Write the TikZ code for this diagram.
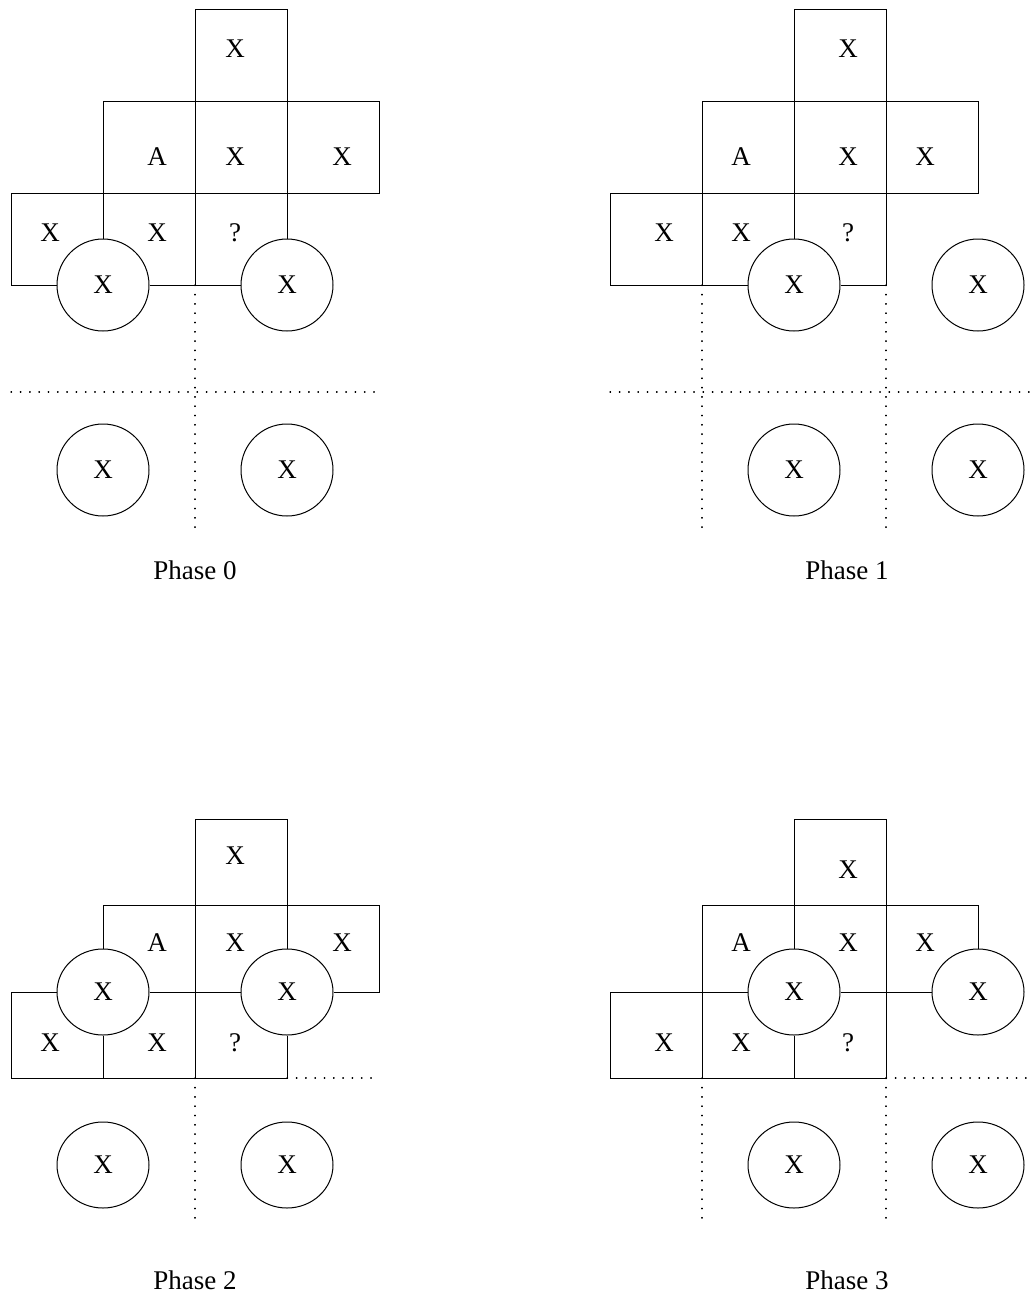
\documentclass[tikz,border=0pt]{standalone}
\usepackage{fontspec}
\setmainfont{Liberation Serif}
\usetikzlibrary{shapes.geometric}

\begin{document}
\begin{tikzpicture}[
  x=0.5pt, y=-0.5pt,
  every node/.style={font=\fontsize{13.5}{16}\selectfont, inner sep=0pt},
  ball/.style={draw, circle, minimum size=46pt, line width=0.5pt},
  flatball/.style={draw, ellipse, minimum width=46pt, minimum height=43pt, line width=0.5pt},
  wall/.style={line width=0.5pt},
  cut/.style={line width=0.6pt, line cap=round, dash pattern=on 0.3pt off 4.35pt},
]
\useasboundingbox (0,0) rectangle (1032,1306);

%% phase 0
\node[ball] (p0a) at (103,285) {X};
\node[ball] (p0b) at (287,285) {X};
\node[ball] (p0c) at (103,470) {X};
\node[ball] (p0d) at (287,470) {X};
\node (p0t)  at (235,49)  {X};
\node (p0m1) at (157,157) {A};
\node (p0m2) at (235,157) {X};
\node (p0m3) at (342,157) {X};
\node (p0b1) at (50,233)  {X};
\node (p0b2) at (157,233) {X};
\node (p0b3) at (235,233) {?};
\node (p0lbl) at (195,570) {Phase 0};

\draw[wall] (195,285) -- (195,9) -- (287,9) -- (p0b.north);
\draw[wall] (p0a.north) -- (103,101) -- (379,101) -- (379,193) -- (11,193) -- (11,285) -- (p0a.west);
\draw[wall] (p0a.east) -- (p0b.west);
\draw[cut] (195,285) -- (195,531);
\draw[cut] (11,392) -- (379,392);

%% phase 1
\node[ball] (p1a) at (794,285) {X};
\node[ball] (p1b) at (978,285) {X};
\node[ball] (p1c) at (794,470) {X};
\node[ball] (p1d) at (978,470) {X};
\node (p1t)  at (848,49)  {X};
\node (p1m1) at (741,157) {A};
\node (p1m2) at (848,157) {X};
\node (p1m3) at (925,157) {X};
\node (p1b1) at (664,233) {X};
\node (p1b2) at (741,233) {X};
\node (p1b3) at (848,233) {?};
\node (p1lbl) at (847,570) {Phase 1};

\draw[wall] (p1a.north) -- (794,9) -- (886,9) -- (886,285) -- (p1a.east);
\draw[wall] (702,285) -- (702,101) -- (978,101) -- (978,193) -- (610,193) -- (610,285) -- (p1a.west);
\draw[cut] (702,285) -- (702,531);
\draw[cut] (886,285) -- (886,531);
\draw[cut] (610,392) -- (1032,392);

%% phase 2
\node[flatball] (p2a) at (103,992)  {X};
\node[flatball] (p2b) at (287,992)  {X};
\node[flatball] (p2c) at (103,1165) {X};
\node[flatball] (p2d) at (287,1165) {X};
\node (p2t)  at (235,856)  {X};
\node (p2m1) at (157,943)  {A};
\node (p2m2) at (235,943)  {X};
\node (p2m3) at (342,943)  {X};
\node (p2b1) at (50,1043)  {X};
\node (p2b2) at (157,1043) {X};
\node (p2b3) at (235,1043) {?};
\node (p2lbl) at (195,1280) {Phase 2};

\draw[wall] (195,1078) -- (195,819) -- (287,819) -- (p2b.north);
\draw[wall] (p2a.north) -- (103,905) -- (379,905) -- (379,992) -- (p2b.east);
\draw[wall] (p2a.east) -- (p2b.west);
\draw[wall] (p2a.west) -- (11,992) -- (11,1078) -- (287,1078) -- (p2b.south);
\draw[wall] (p2a.south) -- (103,1078);
\draw[cut] (195,1078) -- (195,1223);
\draw[cut] (287,1078) -- (379,1078);

%% phase 3
\node[flatball] (p3a) at (794,992)  {X};
\node[flatball] (p3b) at (978,992)  {X};
\node[flatball] (p3c) at (794,1165) {X};
\node[flatball] (p3d) at (978,1165) {X};
\node (p3t)  at (848,870)  {X};
\node (p3m1) at (741,943)  {A};
\node (p3m2) at (848,943)  {X};
\node (p3m3) at (925,943)  {X};
\node (p3b1) at (664,1043) {X};
\node (p3b2) at (741,1043) {X};
\node (p3b3) at (848,1043) {?};
\node (p3lbl) at (847,1280) {Phase 3};

\draw[wall] (p3a.north) -- (794,819) -- (886,819) -- (886,1078) -- (610,1078) -- (610,992) -- (p3a.west);
\draw[wall] (702,1078) -- (702,905) -- (978,905) -- (p3b.north);
\draw[wall] (p3a.east) -- (p3b.west);
\draw[wall] (p3a.south) -- (794,1078);
\draw[cut] (702,1078) -- (702,1223);
\draw[cut] (886,1078) -- (886,1223);
\draw[cut] (886,1078) -- (1032,1078);

\end{tikzpicture}
\end{document}
